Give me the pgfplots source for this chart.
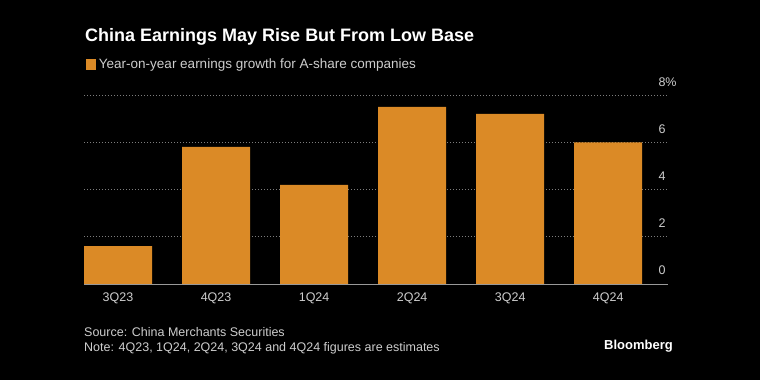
\documentclass[border=0pt]{standalone}
\usepackage{pgfplots}
\pgfplotsset{compat=1.18}
\usepackage{fontspec}
\setmainfont{Liberation Sans}
\definecolor{barorange}{RGB}{219,138,38}
\definecolor{txtgray}{RGB}{205,205,205}
\definecolor{gridgray}{RGB}{125,125,125}
\begin{document}
\begin{tikzpicture}
\fill[black] (0bp,0bp) rectangle (760bp,380bp);
\node[anchor=base west, text=white, font=\fontsize{18bp}{20bp}\selectfont\bfseries, inner sep=0] at (85bp,338bp) {China Earnings May Rise But From Low Base};
\begin{axis}[
  at={(84bp,96bp)}, anchor=south west,
  scale only axis, width=584bp, height=189bp,
  xmin=-0.347, xmax=5.61, ymin=0, ymax=8,
  axis x line*=bottom, axis y line*=right,
  x axis line style={draw=gray!80, line width=0.8pt, -},
  y axis line style={draw=none},
  xtick={0,1,2,3,4,5},
  xticklabels={3Q23,4Q23,1Q24,2Q24,3Q24,4Q24},
  ytick={0,2,4,6,8},
  yticklabels={0,2,4,6,8\rlap{\%}},
  tick style={draw=none},
  ymajorgrids, major grid style={dash pattern=on 1bp off 2bp, gridgray, line width=0.6pt},
  tick label style={font=\fontsize{12.5bp}{15bp}\selectfont, text=txtgray},
  xticklabel style={anchor=base, yshift=-18bp},
  yticklabel style={anchor=base east, yshift=9bp, xshift=1bp},
  yticklabel pos=right,
  legend style={at={(0.003,1.164)}, anchor=west, draw=none, fill=none,
    font=\fontsize{13.5bp}{15bp}\selectfont, text=txtgray, inner sep=0pt,
    nodes={inner sep=3bp}, legend cell align=left},
  legend image code/.code={\fill[barorange] (0bp,-5.5bp) rectangle (10bp,5.5bp);},
]
\addplot[ybar, fill=barorange, draw=none, bar width=68bp] coordinates {
(0,1.6) (1,5.8) (2,4.2) (3,7.5) (4,7.2) (5,6.0)};
\addlegendentry{Year-on-year earnings growth for A-share companies}
\end{axis}
\node[anchor=base west, text=txtgray, font=\fontsize{12.5bp}{14bp}\selectfont, inner sep=0] at (84bp,43bp) {Source: China Merchants Securities};
\node[anchor=base west, text=txtgray, font=\fontsize{12.5bp}{14bp}\selectfont, inner sep=0] at (84bp,29bp) {Note: 4Q23, 1Q24, 2Q24, 3Q24 and 4Q24 figures are estimates};
\node[anchor=base west, text=white, font=\fontsize{13bp}{16bp}\selectfont\bfseries, inner sep=0] at (604bp,31bp) {Bloomberg};
\end{tikzpicture}
\end{document}
